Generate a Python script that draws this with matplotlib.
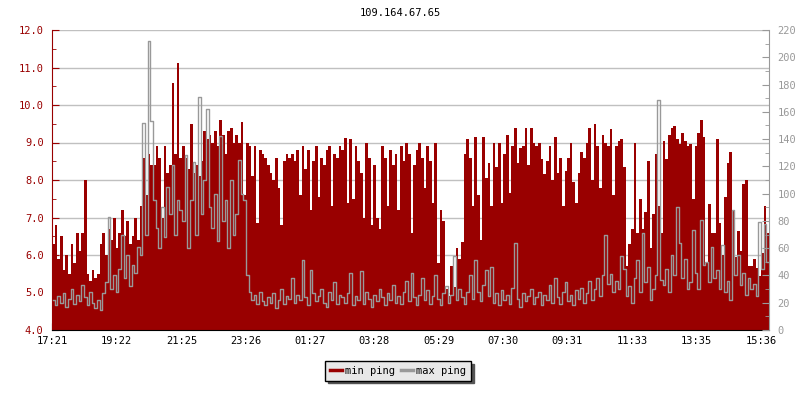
import matplotlib
matplotlib.use("Agg")
import matplotlib.pyplot as plt
import numpy as np

title = "109.164.67.65"
sample_minutes = 5
start_label = "17:21"
tick_labels = ["17:21", "19:22", "21:25", "23:26", "01:27", "03:28", "05:29",
               "07:30", "09:31", "11:33", "13:35", "15:36"]

min_ping = [
    6.3, 6.8, 5.9, 6.5, 5.6, 6.0, 5.5, 6.3, 5.8, 6.6,
    6.1, 6.6, 8.0, 5.5, 5.3, 5.6, 5.4, 5.5, 6.3, 6.6,
    6.0, 6.7, 6.4, 7.0, 6.2, 6.6, 7.2, 6.5, 6.9, 6.3,
    6.5, 7.0, 6.4, 7.3, 8.6, 7.6, 8.7, 8.4, 8.4, 8.9,
    8.6, 7.0, 8.9, 8.2, 8.4, 10.6, 8.7, 11.13, 8.6, 8.9,
    8.6, 8.3, 9.5, 8.2, 8.4, 8.1, 8.5, 9.3, 9.1, 9.2,
    9.0, 9.3, 8.9, 9.6, 9.2, 8.7, 9.3, 9.4, 9.0, 9.2,
    9.0, 9.55, 7.6, 9.0, 8.9, 8.1, 8.9, 6.85, 8.8, 8.7,
    8.6, 8.4, 8.2, 8.0, 8.6, 7.8, 6.8, 8.5, 8.7, 8.6,
    8.7, 8.5, 8.8, 7.6, 8.9, 8.3, 8.8, 7.2, 8.5, 8.9,
    7.55, 8.6, 8.4, 8.8, 8.9, 7.3, 8.7, 8.6, 8.9, 8.8,
    9.13, 7.4, 9.1, 7.5, 8.9, 8.5, 8.2, 7.0, 9.0, 8.6,
    6.8, 8.4, 7.0, 6.7, 8.9, 8.6, 7.3, 8.8, 8.4, 8.7,
    7.2, 8.9, 8.5, 9.0, 8.7, 6.6, 8.4, 8.8, 9.0, 8.6,
    7.8, 8.9, 8.5, 7.4, 9.0, 5.8, 7.2, 6.9, 5.1, 4.9,
    5.7, 5.15, 6.2, 5.9, 6.35, 8.7, 9.1, 8.6, 7.3, 9.15,
    7.6, 6.4, 9.15, 8.05, 8.45, 7.3, 9.0, 8.35, 9.0, 7.4,
    8.7, 9.2, 7.65, 8.9, 9.4, 8.45, 8.85, 8.9, 9.4, 8.4,
    9.4, 9.0, 8.9, 9.0, 8.55, 8.15, 8.5, 8.9, 8.0, 9.15,
    8.2, 8.6, 7.3, 8.25, 8.6, 9.0, 7.95, 7.4, 8.2, 8.75,
    8.6, 9.0, 9.4, 8.0, 9.5, 8.9, 7.8, 9.2, 9.0, 8.9,
    9.35, 7.6, 8.9, 9.05, 9.1, 8.35, 5.7, 6.3, 6.7, 9.0,
    6.6, 7.5, 6.7, 7.15, 8.5, 6.2, 7.1, 8.7, 7.3, 6.6,
    9.05, 8.55, 9.2, 9.4, 9.45, 9.1, 8.95, 9.25, 9.05, 8.9,
    8.95, 7.5, 8.9, 9.25, 9.6, 9.15, 5.8, 7.35, 6.6, 6.6,
    9.1, 6.85, 6.0, 7.55, 8.45, 8.75, 7.2, 5.95, 6.65, 6.1,
    7.9, 8.0, 5.7, 5.7, 5.9, 5.65, 5.45, 6.05, 7.3, 6.6,
]

max_ping = [
    22, 18, 25, 20, 27, 17, 23, 30, 19, 26,
    21, 33, 24, 18, 28, 20, 16, 22, 15, 27,
    35, 83, 30, 40, 28, 45, 70, 38, 55, 32,
    48, 42, 61, 55, 152, 70, 212, 153, 95, 75,
    60, 90, 68, 105, 85, 121, 70, 95, 88, 80,
    128, 60, 95, 123, 70, 171, 85, 110, 162, 90,
    75, 100, 65, 142, 80, 95, 60, 110, 70, 85,
    125, 100, 95, 40, 28, 22, 26, 19, 28, 21,
    18, 24, 20, 27, 16, 22, 30, 19, 25, 23,
    38, 20, 26, 22, 51, 24, 18, 44, 27, 21,
    25, 30, 20, 17, 28, 22, 35, 19, 26, 24,
    20, 27, 42, 18, 25, 22, 43, 19, 28, 23,
    17, 26, 21, 30, 24, 18, 27, 22, 33, 20,
    25, 19, 28, 36, 21, 42, 24, 18, 26, 38,
    22, 29, 19, 25, 40, 23, 18, 27, 32, 20,
    26, 54, 22, 30, 24, 19, 28, 40, 23, 51,
    28, 21, 33, 44, 25, 46, 20, 27, 18, 29,
    22, 26, 19, 31, 64, 23, 17, 27, 21, 25,
    30, 19, 24, 28, 18, 26, 22, 33, 20, 38,
    24, 19, 28, 35, 21, 26, 18, 29, 23, 31,
    20, 27, 36, 22, 30, 38, 25, 40, 70, 34,
    41, 28, 36, 30, 54, 45, 25, 32, 20, 38,
    51, 28, 71, 35, 46, 22, 30, 40, 169, 37,
    33, 45, 28, 55, 40, 90, 64, 38, 52, 30,
    35, 73, 42, 30, 81, 48, 50, 35, 61, 38,
    44, 30, 62, 28, 36, 22, 88, 40, 55, 33,
    42, 26, 38, 30, 34, 25, 79, 45, 78, 50,
]

RED = "#990000"
GRAY = "#999999"
FONT = "DejaVu Sans Mono"
plt.rcParams["font.family"] = FONT

def to_min(lbl):
    h, m = lbl.split(":")
    return int(h) * 60 + int(m)

t0 = to_min(start_label)
tick_pos = []
for lbl in tick_labels:
    d = to_min(lbl) - t0
    if d < 0:
        d += 24 * 60
    tick_pos.append(d)

n = len(min_ping)
edges = np.arange(n + 1) * sample_minutes
centers = edges[:-1] + sample_minutes / 2

fig = plt.figure(figsize=(8, 4), dpi=100)
ax = fig.add_axes([52 / 800, 1 - 330 / 400, (769 - 52) / 800, 300 / 400])
ax.set_axisbelow(True)
ax.stairs(min_ping, edges, baseline=4.0, fill=True, color=RED, lw=0, label="min ping")
ax.set_xlim(0, edges[-1])
ax.set_ylim(4, 12)
ax.set_yticks(np.arange(4, 12.01, 1.0))
ax.set_yticks(np.arange(4.5, 12, 1.0), minor=True)
ax.yaxis.set_major_formatter(matplotlib.ticker.FormatStrFormatter("%.1f"))
ax.grid(axis="y", color="#c0c0c0", lw=1)
ax.set_xticks(tick_pos)
ax.set_xticklabels(tick_labels)
ax.tick_params(axis="y", which="both", direction="in", colors=RED, labelsize=7.5, pad=6)
ax.tick_params(axis="y", which="major", length=5)
ax.tick_params(axis="y", which="minor", length=3)
ax.tick_params(axis="x", direction="in", length=5, labelsize=7.5, colors="black", pad=4)
ax.spines["left"].set_color(RED)
ax.spines["top"].set_visible(False)
ax.spines["right"].set_visible(False)
ax.spines["bottom"].set_color("black")

ax2 = ax.twinx()
ax2.plot(centers, max_ping, color=GRAY, lw=1.0, drawstyle="steps-mid", label="max ping")
ax2.set_ylim(0, 220)
ax2.set_yticks(np.arange(0, 221, 20))
ax2.set_yticks(np.arange(10, 220, 20), minor=True)
ax2.tick_params(axis="y", which="both", direction="in", colors=GRAY, labelsize=7.5, pad=6)
ax2.tick_params(axis="y", which="major", length=5)
ax2.tick_params(axis="y", which="minor", length=3)
ax2.spines["right"].set_color(GRAY)
ax2.spines["top"].set_visible(False)
ax2.spines["left"].set_visible(False)
ax2.spines["bottom"].set_visible(False)

fig.text(0.5, 1 - 13 / 400, title, ha="center", va="center", fontsize=7.5)

from matplotlib.lines import Line2D
handles = [Line2D([], [], color=RED, lw=2.5), Line2D([], [], color=GRAY, lw=2.5)]
leg = fig.legend(handles, ["min ping", "max ping"], loc="center",
                 bbox_to_anchor=(398 / 800, 1 - 371 / 400), ncol=2,
                 fontsize=7.5, frameon=True, fancybox=False,
                 shadow={"color": "#555555", "alpha": 1.0},
                 handlelength=1.2, handletextpad=0.3, columnspacing=0.5,
                 borderpad=0.45)
leg.get_frame().set_facecolor("#e8e8e8")
leg.get_frame().set_edgecolor("black")
leg.get_frame().set_linewidth(1.0)
leg.get_frame().set_alpha(1.0)

fig.savefig("out.png", dpi=100)
